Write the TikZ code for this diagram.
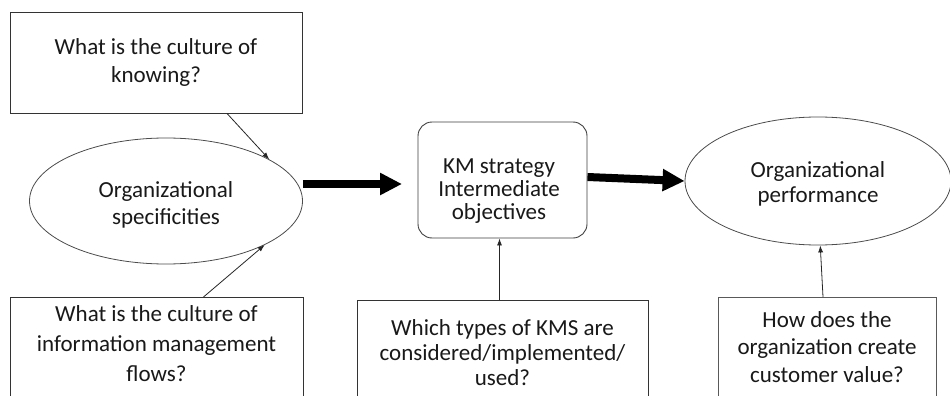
\documentclass[tikz,border=0pt]{standalone}
\usepackage{fontspec}
\setmainfont{Carlito}
\usetikzlibrary{arrows.meta,shapes.geometric}
\begin{document}
\begin{tikzpicture}[x=1pt,y=-1pt,
 qbox/.style={draw=black!80, line width=0.9pt, inner sep=0pt},
 rbox/.style={draw=black!75, line width=0.9pt, rounded corners=14pt, inner sep=0pt},
 txt/.style={align=center, font=\fontsize{23}{27.5}\selectfont, text=black!90, inner sep=0pt},
 oval/.style={ellipse, draw=black!70, line width=0.8pt, inner sep=0pt},
 thinarr/.style={-{Latex[length=7pt,width=5pt]}, line width=0.8pt, draw=black!85},
 thickarr/.style={-{Triangle[length=22pt,width=21pt]}, line width=8pt}]
\useasboundingbox (0,0) rectangle (950,396);
\clip (0,0) rectangle (950,396);
\fill[white] (0,0) rectangle (950,396);
% top-left question
\node[qbox, txt, minimum width=292pt, minimum height=101pt] (b1) at (156,62.5) {What is the culture of\\knowing?};
% ellipses
\node[oval, minimum width=273pt, minimum height=126pt] (e1) at (166,201) {};
\node[txt] (e1t) at (166,205) {Organizational\\specificities};
\node[oval, minimum width=266pt, minimum height=128pt] (e2) at (818,181) {};
\node[txt, font=\fontsize{23}{25}\selectfont] (e2t) at (818,184) {Organizational\\performance};
% KM box
\node[rbox, minimum width=169pt, minimum height=116pt] (km) at (502.5,180) {};
\node[txt, font=\fontsize{23}{23}\selectfont] (kmt) at (499,191) {KM strategy\\Intermediate\\objectives};
% bottom boxes
\node[qbox, minimum width=293pt, minimum height=130pt, anchor=north] (b3) at (156.5,297) {};
\node[txt, font=\fontsize{23}{30}\selectfont] (t3) at (156.5,344) {What is the culture of\\information management\\flows?};
\node[qbox, minimum width=291pt, minimum height=130pt, anchor=north] (b4) at (502.5,300) {};
\node[txt, font=\fontsize{23}{25}\selectfont] (t4) at (502.5,353) {Which types of KMS are\\considered/implemented/\\used?};
\node[qbox, minimum width=218pt, minimum height=130pt, anchor=north, draw=black!65] (b5) at (827,297) {};
\node[txt] (t5) at (827,347) {How does the\\organization create\\customer value?};
% thin arrows
\coordinate (s1) at ([xshift=71pt]b1.south);
\draw[thinarr] (s1) -- (e1.22);
\coordinate (s3) at ([xshift=47pt]b3.north);
\draw[thinarr] (s3) -- (e1.-24);
\draw[thinarr] ([xshift=-3pt]b4.north) -- ([xshift=-3pt]km.south);
\draw[thinarr] ([xshift=-4pt]b5.north) -- (e2.-88);
% thick arrows
\coordinate (k1) at (402,184);
\draw[thickarr] (e1.east |- k1) -- (k1);
\draw[thickarr] (km.east |- 0,177) -- (e2.west);
\end{tikzpicture}
\end{document}
